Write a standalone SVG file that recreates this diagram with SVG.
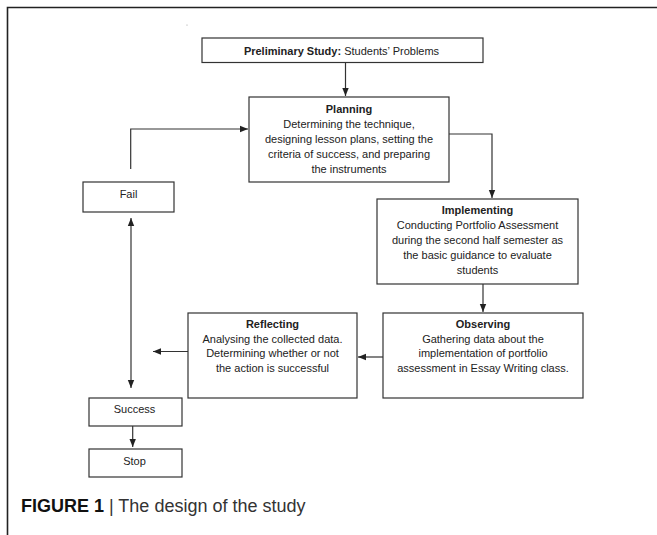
<svg xmlns="http://www.w3.org/2000/svg" width="657" height="535" viewBox="0 0 657 535">
<style>
.box{fill:#fff;stroke:#333;stroke-width:1.2}
.t{font-family:"Liberation Sans",Arial,sans-serif;font-size:11px;fill:#222;text-anchor:middle}
.b{font-weight:bold}
.c{fill:none;stroke:#333;stroke-width:1.2}
.frame{fill:none;stroke:#222;stroke-width:1.6}
.cap{font-family:"Liberation Sans",Arial,sans-serif;font-size:18px;fill:#333}
</style>
<defs>
<marker id="ah" markerUnits="userSpaceOnUse" markerWidth="8" markerHeight="8" viewBox="0 0 8 8" refX="8" refY="4" orient="auto-start-reverse">
<path d="M0,0.8 L8,4 L0,7.2 Z" fill="#222"/>
</marker>
</defs>
<rect width="657" height="535" fill="#fff"/>
<path class="frame" d="M7.5,535 V7.5 H657"/>
<circle cx="187" cy="25" r="0.6" fill="#999"/>

<g id="connectors">
<path class="c" d="M345.5,62.5 V96" marker-end="url(#ah)"/>
<path class="c" d="M130.7,169 V129 H248" marker-end="url(#ah)"/>
<path class="c" d="M449,134 H492 V198" marker-end="url(#ah)"/>
<path class="c" d="M483,284 V312" marker-end="url(#ah)"/>
<path class="c" d="M383,357 H358" marker-end="url(#ah)"/>
<path class="c" d="M188,351.5 H153" marker-end="url(#ah)"/>
<path class="c" d="M131,218 V388" marker-start="url(#ah)" marker-end="url(#ah)"/>
<path class="c" d="M132.7,426 V447" marker-end="url(#ah)"/>
</g>

<g id="preliminary">
<rect class="box" x="202" y="38" width="281" height="24.5"/>
<text class="t" x="341.5" y="55"><tspan class="b">Preliminary Study:</tspan> Students’ Problems</text>
</g>

<g id="planning">
<rect class="box" x="249" y="97" width="200" height="85"/>
<text class="t b" x="349" y="113">Planning</text>
<text class="t" x="349" y="127.5">Determining the technique,</text>
<text class="t" x="349" y="142.5">designing lesson plans, setting the</text>
<text class="t" x="349" y="157.5">criteria of success, and preparing</text>
<text class="t" x="349" y="172.5">the instruments</text>
</g>

<g id="implementing">
<rect class="box" x="377" y="199" width="201" height="85"/>
<text class="t b" x="477.5" y="214">Implementing</text>
<text class="t" x="477.5" y="229">Conducting Portfolio Assessment</text>
<text class="t" x="477.5" y="244">during the second half semester as</text>
<text class="t" x="477.5" y="259">the basic guidance to evaluate</text>
<text class="t" x="477.5" y="273.5">students</text>
</g>

<g id="observing">
<rect class="box" x="383" y="313" width="200" height="85"/>
<text class="t b" x="483" y="328">Observing</text>
<text class="t" x="483" y="342.5">Gathering data about the</text>
<text class="t" x="483" y="357">implementation of portfolio</text>
<text class="t" x="483" y="371.5">assessment in Essay Writing class.</text>
</g>

<g id="reflecting">
<rect class="box" x="188" y="313" width="169" height="85"/>
<text class="t b" x="272.5" y="328">Reflecting</text>
<text class="t" x="272.5" y="342.5">Analysing the collected data.</text>
<text class="t" x="272.5" y="357">Determining whether or not</text>
<text class="t" x="272.5" y="371.5">the action is successful</text>
</g>

<g id="fail">
<rect class="box" x="83" y="182" width="91" height="30"/>
<text class="t" x="128.5" y="198">Fail</text>
</g>

<g id="success">
<rect class="box" x="89" y="398" width="93" height="28"/>
<text class="t" x="134.5" y="413">Success</text>
</g>

<g id="stop">
<rect class="box" x="89" y="449" width="93" height="28"/>
<text class="t" x="134.5" y="465">Stop</text>
</g>

<g id="caption">
<text class="cap" x="21" y="512"><tspan font-weight="bold" fill="#111">FIGURE 1</tspan> | The design of the study</text>
</g>
</svg>
